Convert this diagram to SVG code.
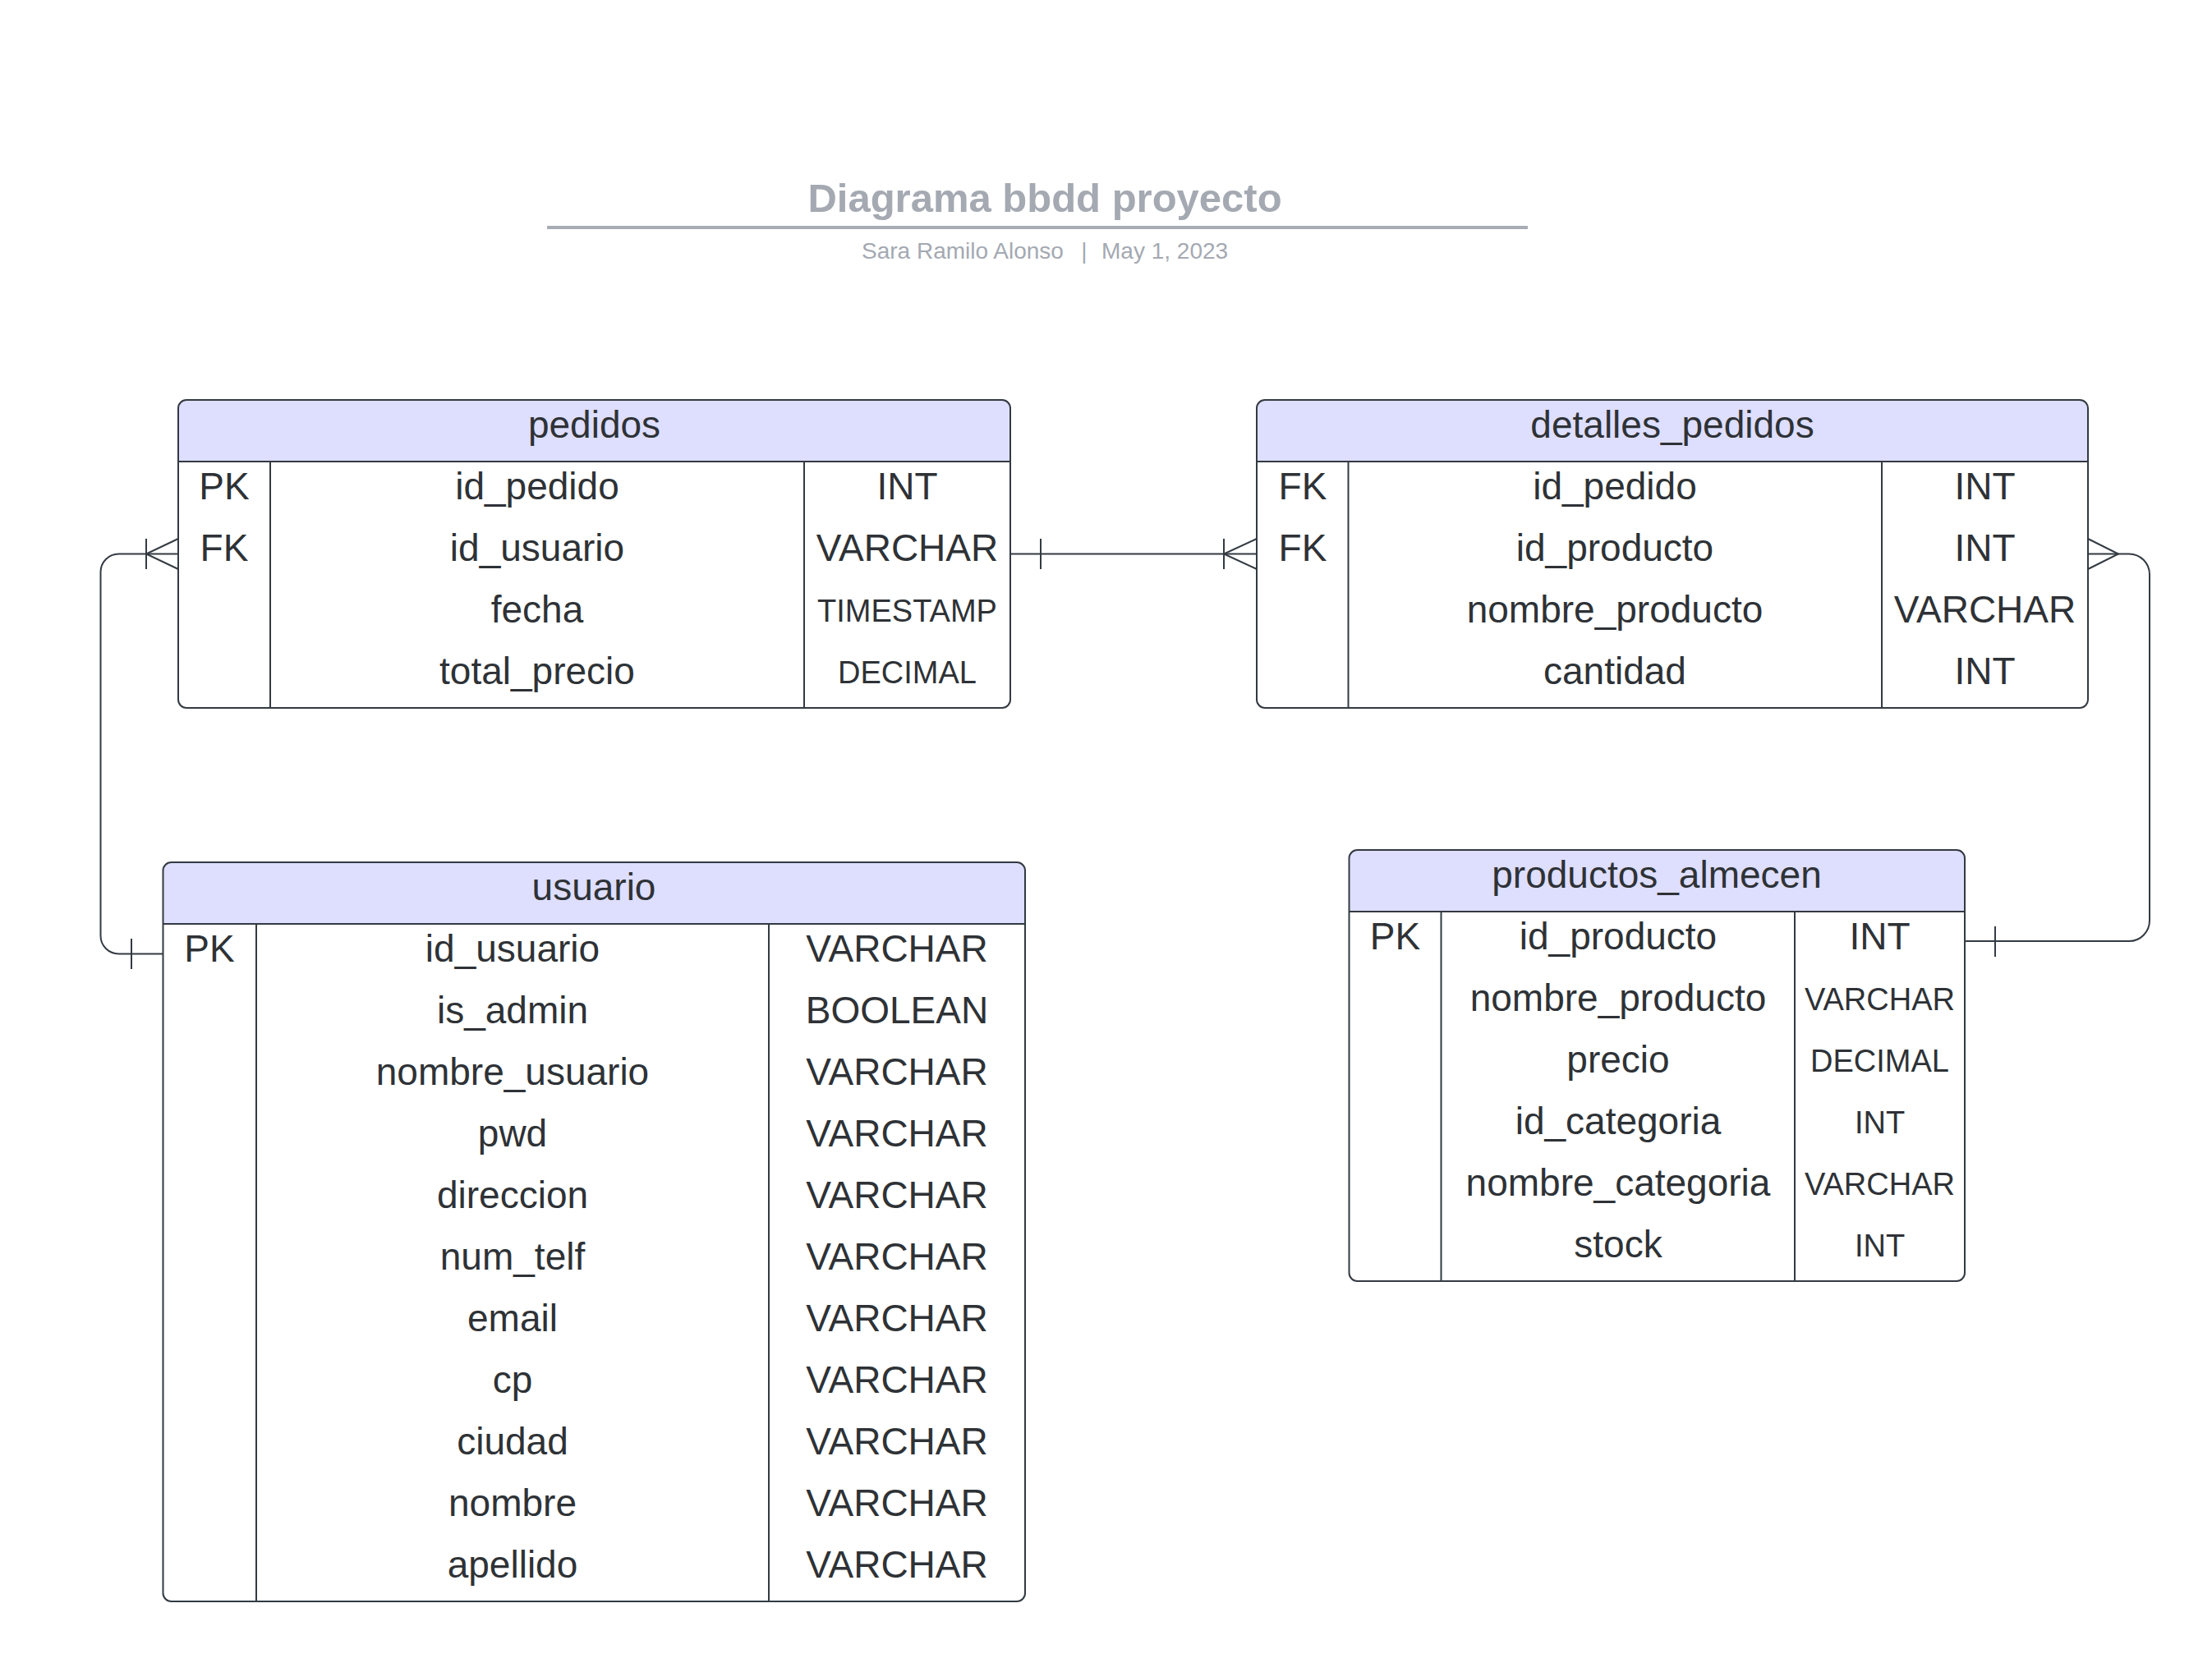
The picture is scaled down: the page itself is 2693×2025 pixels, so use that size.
<svg xmlns="http://www.w3.org/2000/svg" width="2693" height="2025" viewBox="0 0 2693 2025">
<style>
.hdr{fill:#dedefe;stroke:none}
.box{fill:none;stroke:#333a42;stroke-width:2}
.ln{stroke:#333a42;stroke-width:2;fill:none}
.t{font-family:"Liberation Sans",Arial,sans-serif;font-size:46px;fill:#2e3236;text-anchor:middle}
.s{font-size:38px}
.cn{stroke:#333a42;stroke-width:2;fill:none}
.ttl{font-family:"Liberation Sans",Arial,sans-serif;font-weight:bold;font-size:49px;fill:#a4a9b2;text-anchor:middle}
.sub{font-family:"Liberation Sans",Arial,sans-serif;font-size:28px;fill:#a4a9b2}
</style>
<rect width="2693" height="2025" fill="#ffffff"/>
<g id="title">
<text class="ttl" x="1272" y="258">Diagrama bbdd proyecto</text>
<line x1="666" y1="277" x2="1860" y2="277" stroke="#a8adb5" stroke-width="4"/>
<text class="sub" x="1049" y="315">Sara Ramilo Alonso</text>
<text class="sub" x="1320" y="315" text-anchor="middle">|</text>
<text class="sub" x="1341" y="315">May 1, 2023</text>
</g>
<g id="pedidos">
<path class="hdr" d="M217,562 V497 A10,10 0 0 1 227,487 H1220 A10,10 0 0 1 1230,497 V562 Z"/>
<rect class="box" x="217" y="487" width="1013" height="375" rx="10"/>
<line class="ln" x1="217" y1="562" x2="1230" y2="562"/>
<line class="ln" x1="329" y1="562" x2="329" y2="862"/>
<line class="ln" x1="979" y1="562" x2="979" y2="862"/>
<text class="t" x="723.5" y="533">pedidos</text>
<text class="t" x="273" y="608">PK</text><text class="t" x="654" y="608">id_pedido</text><text class="t" x="1104.5" y="608">INT</text>
<text class="t" x="273" y="683">FK</text><text class="t" x="654" y="683">id_usuario</text><text class="t" x="1104.5" y="683">VARCHAR</text>
<text class="t" x="654" y="758">fecha</text><text class="t s" x="1104.5" y="757">TIMESTAMP</text>
<text class="t" x="654" y="833">total_precio</text><text class="t s" x="1104.5" y="832">DECIMAL</text>
</g>
<g id="detalles_pedidos">
<path class="hdr" d="M1530,562 V497 A10,10 0 0 1 1540,487 H2532 A10,10 0 0 1 2542,497 V562 Z"/>
<rect class="box" x="1530" y="487" width="1012" height="375" rx="10"/>
<line class="ln" x1="1530" y1="562" x2="2542" y2="562"/>
<line class="ln" x1="1641.5" y1="562" x2="1641.5" y2="862"/>
<line class="ln" x1="2291" y1="562" x2="2291" y2="862"/>
<text class="t" x="2036" y="533">detalles_pedidos</text>
<text class="t" x="1586" y="608">FK</text><text class="t" x="1966" y="608">id_pedido</text><text class="t" x="2416.5" y="608">INT</text>
<text class="t" x="1586" y="683">FK</text><text class="t" x="1966" y="683">id_producto</text><text class="t" x="2416.5" y="683">INT</text>
<text class="t" x="1966" y="758">nombre_producto</text><text class="t" x="2416.5" y="758">VARCHAR</text>
<text class="t" x="1966" y="833">cantidad</text><text class="t" x="2416.5" y="833">INT</text>
</g>
<g id="usuario">
<path class="hdr" d="M198.5,1125 V1060 A10,10 0 0 1 208.5,1050 H1238 A10,10 0 0 1 1248,1060 V1125 Z"/>
<rect class="box" x="198.5" y="1050" width="1049.5" height="900" rx="10"/>
<line class="ln" x1="198.5" y1="1125" x2="1248" y2="1125"/>
<line class="ln" x1="312" y1="1125" x2="312" y2="1950"/>
<line class="ln" x1="936" y1="1125" x2="936" y2="1950"/>
<text class="t" x="723" y="1096">usuario</text>
<text class="t" x="255" y="1171">PK</text><text class="t" x="624" y="1171">id_usuario</text><text class="t" x="1092" y="1171">VARCHAR</text>
<text class="t" x="624" y="1246">is_admin</text><text class="t" x="1092" y="1246">BOOLEAN</text>
<text class="t" x="624" y="1321">nombre_usuario</text><text class="t" x="1092" y="1321">VARCHAR</text>
<text class="t" x="624" y="1396">pwd</text><text class="t" x="1092" y="1396">VARCHAR</text>
<text class="t" x="624" y="1471">direccion</text><text class="t" x="1092" y="1471">VARCHAR</text>
<text class="t" x="624" y="1546">num_telf</text><text class="t" x="1092" y="1546">VARCHAR</text>
<text class="t" x="624" y="1621">email</text><text class="t" x="1092" y="1621">VARCHAR</text>
<text class="t" x="624" y="1696">cp</text><text class="t" x="1092" y="1696">VARCHAR</text>
<text class="t" x="624" y="1771">ciudad</text><text class="t" x="1092" y="1771">VARCHAR</text>
<text class="t" x="624" y="1846">nombre</text><text class="t" x="1092" y="1846">VARCHAR</text>
<text class="t" x="624" y="1921">apellido</text><text class="t" x="1092" y="1921">VARCHAR</text>
</g>
<g id="productos_almecen">
<path class="hdr" d="M1642.5,1110 V1045 A10,10 0 0 1 1652.5,1035 H2382 A10,10 0 0 1 2392,1045 V1110 Z"/>
<rect class="box" x="1642.5" y="1035" width="749.5" height="525" rx="10"/>
<line class="ln" x1="1642.5" y1="1110" x2="2392" y2="1110"/>
<line class="ln" x1="1754.5" y1="1110" x2="1754.5" y2="1560"/>
<line class="ln" x1="2185" y1="1110" x2="2185" y2="1560"/>
<text class="t" x="2017" y="1081">productos_almecen</text>
<text class="t" x="1698.5" y="1156">PK</text><text class="t" x="1970" y="1156">id_producto</text><text class="t" x="2288.5" y="1156">INT</text>
<text class="t" x="1970" y="1231">nombre_producto</text><text class="t s" x="2288.5" y="1230">VARCHAR</text>
<text class="t" x="1970" y="1306">precio</text><text class="t s" x="2288.5" y="1305">DECIMAL</text>
<text class="t" x="1970" y="1381">id_categoria</text><text class="t s" x="2288.5" y="1380">INT</text>
<text class="t" x="1970" y="1456">nombre_categoria</text><text class="t s" x="2288.5" y="1455">VARCHAR</text>
<text class="t" x="1970" y="1531">stock</text><text class="t s" x="2288.5" y="1530">INT</text>
</g>
<g id="connectors">
<path class="cn" d="M217,674.5 H144.5 A22,22 0 0 0 122.5,696.5 V1139.5 A22,22 0 0 0 144.5,1161.5 H198.5"/>
<path class="cn" d="M217,656 L178,674.5 L217,693 M178,656 V693"/>
<path class="cn" d="M160,1143 V1180"/>
<path class="cn" d="M1230,674.5 H1530"/>
<path class="cn" d="M1267,656 V693"/>
<path class="cn" d="M1530,656 L1490,674.5 L1530,693 M1490,656 V693"/>
<path class="cn" d="M2542,674.5 H2592 A25,25 0 0 1 2617,699.5 V1121 A25,25 0 0 1 2592,1146 H2392"/>
<path class="cn" d="M2542,656 L2579,674.5 L2542,693"/>
<path class="cn" d="M2429,1128 V1165"/>
</g>
</svg>
